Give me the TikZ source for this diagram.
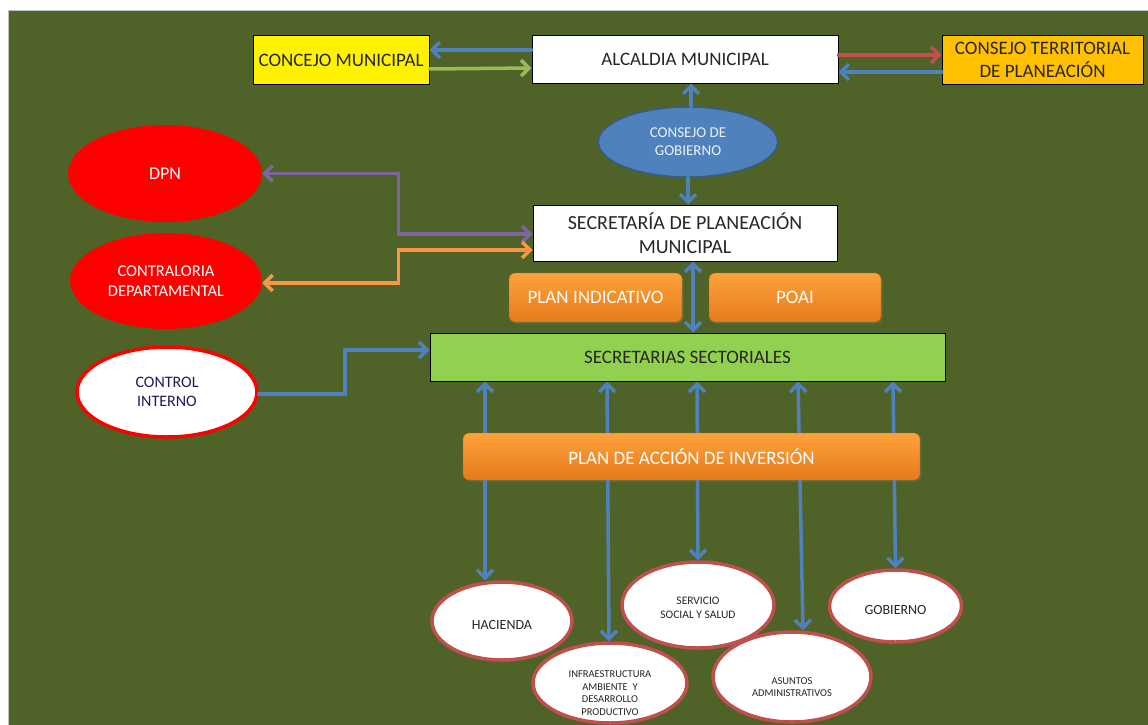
\documentclass[tikz,border=0pt]{standalone}
\usepackage{fontspec}
\setmainfont{Carlito}
\usetikzlibrary{arrows.meta,shapes.geometric,shadows}
\definecolor{bg}{HTML}{4F6228}
\definecolor{blueA}{HTML}{4F81BD}
\definecolor{blueD}{HTML}{385D8A}
\definecolor{greenA}{HTML}{9BBB59}
\definecolor{redA}{HTML}{C0504D}
\definecolor{purpleA}{HTML}{8064A2}
\definecolor{orangeA}{HTML}{F79646}
\definecolor{ssfill}{HTML}{92D050}
\definecolor{goldA}{HTML}{FFC000}
\definecolor{orT}{HTML}{FFA23A}
\definecolor{orB}{HTML}{E57A1C}
\definecolor{txtD}{HTML}{262626}
\tikzset{
  fs/.style={font=\pgfmathsetmacro\mybls{#1*1.2}\fontsize{#1}{\mybls}\selectfont},
  topbox/.style={draw=black, line width=1pt, rectangle, inner sep=2pt, align=center, text=txtD},
  orbox/.style={rectangle, rounded corners=6pt, top color=orT, bottom color=orB, draw=orB!80!black, line width=0.4pt, text=white, align=center, drop shadow={opacity=0.35, shadow xshift=1.5pt, shadow yshift=-1.5pt}},
  redell/.style={ellipse, fill=red, inner sep=0pt, text=white, align=center},
  whell/.style={ellipse, fill=white, draw=redA, line width=3.5pt, inner sep=0pt, text=txtD, align=center},
  conn/.style={line width=3.5pt, line cap=round, -{Straight Barb[length=8pt,width=16pt]}},
  dconn/.style={line width=3.5pt, {Straight Barb[length=8pt,width=16pt]}-{Straight Barb[length=8pt,width=16pt]}},
}
\begin{document}
\begin{tikzpicture}[x=1pt,y=-1pt]
\useasboundingbox (0,0) rectangle (1148,725);
\fill[white] (0,0) rectangle (1148,725);
\draw[fill=bg, draw=gray!50, line width=1pt] (8,11) rectangle (1152,730);

% top row
\node[topbox, fill=yellow, minimum width=176pt, minimum height=48pt, fs=19] (conc) at (341,60) {CONCEJO MUNICIPAL};
\node[topbox, fill=white, minimum width=306pt, minimum height=47pt, fs=19] (alc) at (685,59.5) {ALCALDIA MUNICIPAL};
\node[topbox, fill=goldA, minimum width=201pt, minimum height=48pt, fs=19, inner sep=1pt] (ctp) at (1042.5,60) {CONSEJO TERRITORIAL\\DE PLANEACIÓN};

\draw[conn, blueA] ([yshift=9.5pt]alc.west) -- ([yshift=10pt]conc.east);
\draw[conn, greenA] ([yshift=-9pt]conc.east) -- ([yshift=-8.5pt]alc.west);
\draw[conn, redA] ([yshift=4.5pt]alc.east) -- ([yshift=5pt]ctp.west);
\draw[conn, blueA] ([yshift=-12pt]ctp.west) -- ([yshift=-12.5pt]alc.east);

% consejo de gobierno
\node[ellipse, fill=blueA, draw=blueD, line width=1.5pt, minimum width=179pt, minimum height=70pt, inner sep=0pt, text=white!88!blueA, align=center, fs=15] (cg) at (688,142) {CONSEJO DE\\GOBIERNO};
\node[topbox, fill=white, minimum width=304pt, minimum height=56pt, fs=20, inner sep=1pt] (spm) at (685,233) {SECRETARÍA DE PLANEACIÓN\\MUNICIPAL};
\draw[conn, blueA] ([xshift=3pt]cg.north) -- ([xshift=6pt]alc.south);
\draw[conn, blueA] (cg.south) -- ([xshift=3pt]spm.north);

% left red ellipses
\node[redell, minimum width=194pt, minimum height=97pt, fs=18] (dpn) at (165,173.5) {DPN};
\node[redell, minimum width=192pt, minimum height=96pt, fs=16.5] (contra) at (166,281) {CONTRALORIA\\DEPARTAMENTAL};
\draw[dconn, purpleA] ([yshift=-1pt]spm.west) -- ++(-134,0) |- (dpn.east);
\draw[dconn, orangeA] ([yshift=-17pt]spm.west) -- ++(-134,0) |- ([yshift=-2pt]contra.east);

% plans
\node[orbox, minimum width=173pt, minimum height=49pt, fs=19] (pi) at (595.5,297.5) {PLAN INDICATIVO};
\node[orbox, minimum width=172pt, minimum height=49pt, fs=19] (poai) at (795,297.5) {POAI};

% secretarias sectoriales
\node[topbox, fill=ssfill, minimum width=515pt, minimum height=48pt, fs=19] (ss) at (687.5,357) {SECRETARIAS SECTORIALES};
\draw[dconn, blueA] ([xshift=8pt]spm.south) -- ([xshift=5.5pt]ss.north);

% control interno
\node[whell, draw=red, minimum width=180pt, minimum height=90pt, text=txtD!75!blue, fs=16] (ci) at (167,392) {CONTROL\\INTERNO};
\draw[conn, blueA] ([yshift=-2pt]ci.east) -- ++(86,0) |- ([yshift=7pt]ss.west);

% lower ellipses
\node[whell, minimum width=140pt, minimum height=78pt, label={[align=center, text=txtD, fs=14, yshift=-4pt]center:HACIENDA}] (hac) at (502,621) {};
\node[whell, minimum width=154pt, minimum height=80pt, label={[align=center, text=txtD, fs=10.5, yshift=-10pt]center:INFRAESTRUCTURA\\AMBIENTE\ \ Y\\DESARROLLO\\PRODUCTIVO}] (inf) at (610,683) {};
\node[whell, minimum width=152pt, minimum height=86pt, label={[align=center, text=txtD, fs=11.5, yshift=-3pt]center:SERVICIO\\SOCIAL Y SALUD}] (srv) at (698,605) {};
\node[whell, minimum width=158pt, minimum height=90pt, label={[align=center, text=txtD, fs=10.5, yshift=-10pt]center:ASUNTOS\\ADMINISTRATIVOS}] (asu) at (792,677) {};
\node[whell, minimum width=132pt, minimum height=72pt, label={[align=center, text=txtD, fs=14, yshift=-4pt]center:GOBIERNO}] (gob) at (895.5,606) {};

\draw[dconn, blueA] ([xshift=-202.5pt]ss.south) -- ([xshift=-202.5pt]ss.south |- hac.north);
\draw[dconn, blueA] ([xshift=-80.5pt]ss.south) -- ([xshift=-1pt]inf.north);
\draw[dconn, blueA] ([xshift=9.5pt]ss.south) -- (srv.north);
\draw[dconn, blueA] ([xshift=110.5pt]ss.south) -- ([xshift=11pt]asu.north);
\draw[dconn, blueA] ([xshift=205.5pt]ss.south) -- (gob.north);

% plan de accion (over the connectors)
\node[orbox, minimum width=457pt, minimum height=47pt, fs=19] (pai) at (691.5,456.5) {PLAN DE ACCIÓN DE INVERSIÓN};
\end{tikzpicture}
\end{document}
